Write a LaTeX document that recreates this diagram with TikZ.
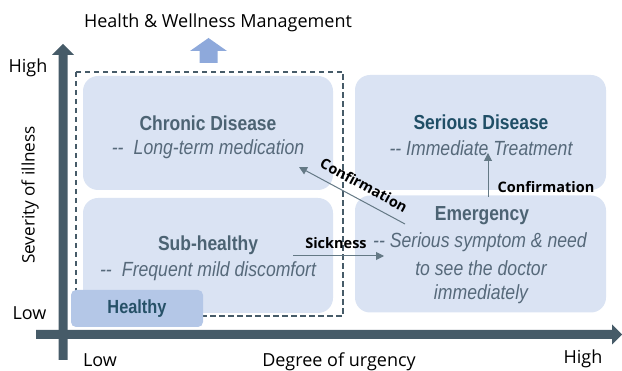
\documentclass[tikz,border=0pt]{standalone}
\usepackage{fontspec}
\setmainfont{Liberation Sans}
\newfontfamily\cond[FakeStretch=0.86]{Liberation Sans}
\newfontfamily\ui{Open Sans}
\usetikzlibrary{arrows.meta}
\definecolor{axis}{HTML}{465B68}
\definecolor{boxfill}{HTML}{DAE3F3}
\definecolor{healthfill}{HTML}{B4C7E7}
\definecolor{titlecol}{HTML}{4C6373}
\definecolor{darktitle}{HTML}{1F4E66}
\definecolor{subcol}{HTML}{56697A}
\definecolor{linkcol}{HTML}{647985}
\definecolor{upblue}{HTML}{8EA9DB}
\tikzset{
  box/.style={fill=boxfill, draw=none, rounded corners=15pt, inner sep=0pt},
  title/.style={font=\cond\bfseries\fontsize{20.3}{22}\selectfont, text=titlecol, inner sep=0pt},
  subtitle/.style={font=\cond\itshape\fontsize{20.5}{22}\selectfont, text=subcol, inner sep=0pt},
  axislabel/.style={font=\ui\fontsize{18}{20}\selectfont, text=black, inner sep=0pt},
  linklabel/.style={font=\ui\fontsize{14.5}{16}\selectfont\bfseries, text=black, inner sep=0pt},
  link/.style={draw=linkcol, line width=1pt, -{Triangle[length=8pt,width=8pt]}},
}
\begin{document}
\begin{tikzpicture}[x=1pt, y=-1pt]
\useasboundingbox (0,0) rectangle (622,371);

% axes
\fill[axis] (58.5,360) -- (58.5,55) -- (52,55) -- (63,44) -- (74,55) -- (67.5,55) -- (67.5,360) -- cycle;
\fill[axis] (36,330) -- (612,330) -- (612,324.5) -- (622,334.5) -- (612,344.5) -- (612,339) -- (36,339) -- cycle;

% axis labels
\node[axislabel] (hiY) at (28,68) {High};
\node[axislabel] (loY) at (29.5,313) {Low};
\node[axislabel] (loX) at (100,360) {Low};
\node[axislabel] (hiX) at (583,359) {High};
\node[axislabel] (xname) at (339,362) {Degree of urgency};
\node[axislabel, font=\ui\fontsize{17.2}{19}\selectfont, rotate=90] (yname) at (30,195) {Severity of illness};
\node[axislabel] (mgmt) at (218,23) {Health \& Wellness Management};

% upward block arrow under the management heading
\fill[upblue] (199.5,63) -- (199.5,51) -- (190,51) -- (208.5,38) -- (227,51) -- (217.5,51) -- (217.5,63) -- cycle;

% quadrant boxes
\node[box, minimum width=250pt, minimum height=114pt] (chronic) at (208,133) {};
\node[box, minimum width=250pt, minimum height=115pt] (subh) at (208,255.5) {};
\node[box, minimum width=251pt, minimum height=115pt] (serious) at (480.5,132.5) {};
\node[box, minimum width=251pt, minimum height=117pt] (emerg) at (480.5,254) {};

% management frame
\draw[axis, line width=1.1pt, dash pattern=on 5.5pt off 3.5pt] (76,72) rectangle (343,316);

% healthy tag
\node[box, fill=healthfill, rounded corners=5pt, minimum width=132pt, minimum height=37pt] (healthy) at (137,308.5) {};
\node[title, font=\cond\bfseries\fontsize{19}{21}\selectfont, text=darktitle!85!titlecol] (healthyt) at (137,308.5) {Healthy};

% texts in boxes
\node[title] (chronict) at (208,123) {Chronic Disease};
\node[subtitle] (chronics) at (208,149) {--\enspace Long-term medication};
\node[title] (subht) at (208,245) {Sub-healthy};
\node[subtitle] (subhs) at (208,271) {--\enspace Frequent mild discomfort};
\node[title, text=darktitle] (seriost) at (481,122) {Serious Disease};
\node[subtitle] (serioss) at (481,148) {-- Immediate Treatment};
\node[title] (emergt) at (482,216) {Emergency};
\node[subtitle] (emergs1) at (480,242) {-- Serious symptom \& need};
\node[subtitle] (emergs2) at (481,268) {to see the doctor};
\node[subtitle] (emergs3) at (481,294) {immediately};

% connectors
\coordinate (sickA) at (293,256);
\coordinate (sickB) at (384,256);
\draw[link] (sickA) -- (sickB);
\node[linklabel] (sickl) at (336,243) {Sickness};

\coordinate (confA) at (488,197);
\coordinate (confB) at (488,153);
\draw[link] (confA) -- (confB);
\node[linklabel] (confl1) at (546,187) {Confirmation};

\coordinate (diagA) at (405,224);
\coordinate (diagB) at (299,167);
\draw[link] (diagA) -- (diagB);
\node[linklabel, rotate=-28.5] (confl2) at (364,185) {Confirmation};
\end{tikzpicture}
\end{document}
